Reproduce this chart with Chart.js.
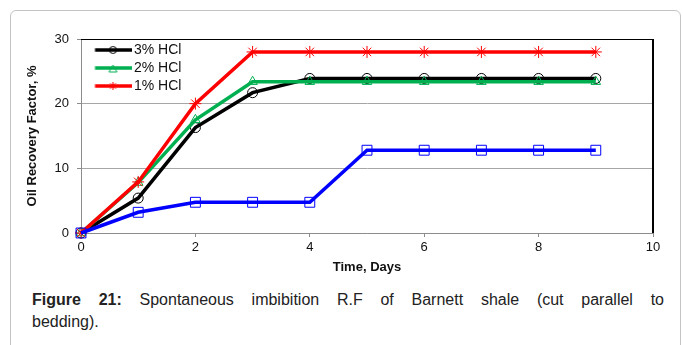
<!DOCTYPE html>
<html>
<head>
  <title>Figure 21</title>
  <script src="https://cdn.jsdelivr.net/npm/chart.js"></script>
  <style>
    body { margin: 0; background: #fff; font-family: "Liberation Sans", Arial, sans-serif; }
    #card { position: absolute; left: 10px; top: 10px; width: 671px; height: 345px;
            border: 1px solid #c4c4c4; border-radius: 6px; box-sizing: border-box; }
    #wrap { position: absolute; left: 0; top: 0; width: 683px; height: 285px; }
    .cap { position: absolute; left: 32px; width: 632px; font-size: 16px; color: #222; line-height: 22px; }
    #cap1 { top: 289px; text-align: justify; text-align-last: justify; }
    #cap2 { top: 311px; }
  </style>
</head>
<body>
  <div id="card"></div>
  <div id="wrap"><canvas id="chart" width="683" height="285"></canvas></div>
  <div class="cap" id="cap1"><b>Figure 21:</b> Spontaneous imbibition R.F of Barnett shale (cut parallel to</div>
  <div class="cap" id="cap2">bedding).</div>

  <script>
    const days = [0, 1, 2, 3, 4, 5, 6, 7, 8, 9];
    const hcl3 = [0, 5.4, 16.3, 21.7, 23.9, 23.9, 23.9, 23.9, 23.9, 23.9];
    const hcl2 = [0, 7.8, 17.5, 23.4, 23.4, 23.4, 23.4, 23.4, 23.4, 23.4];
    const hcl1 = [0, 7.9, 20, 28, 28, 28, 28, 28, 28, 28];
    const blank = [0, 3.2, 4.75, 4.75, 4.75, 12.8, 12.8, 12.8, 12.8, 12.8];
    const xTicks = [0, 2, 4, 6, 8, 10];
    const yTicks = [0, 10, 20, 30];

    const pts = (ys) => days.map((d, i) => ({ x: d, y: ys[i] }));

    // line + marker sample for the legend
    function legendImage(color, marker) {
      const c = document.createElement('canvas');
      c.width = 51; c.height = 12;
      const g = c.getContext('2d');
      g.strokeStyle = color;
      g.lineWidth = 3.5;
      g.beginPath(); g.moveTo(14.5, 6); g.lineTo(51, 6); g.stroke();
      g.lineWidth = 1;
      g.beginPath();
      const cx = 32.5, cy = 6;
      if (marker === 'circle') {
        g.arc(cx, cy, 3.5, 0, Math.PI * 2);
      } else if (marker === 'triangle') {
        g.moveTo(cx, cy - 3); g.lineTo(cx + 4, cy + 4); g.lineTo(cx - 4, cy + 4); g.closePath();
      } else {
        for (let a = 0; a < 4; a++) {
          const r = a * Math.PI / 4;
          g.moveTo(cx - 4 * Math.cos(r), cy - 4 * Math.sin(r));
          g.lineTo(cx + 4 * Math.cos(r), cy + 4 * Math.sin(r));
        }
      }
      g.stroke();
      return c;
    }

    const legendImgs = [
      legendImage('#000000', 'circle'),
      legendImage('#00b050', 'triangle'),
      legendImage('#ff0000', 'star')
    ];

    function series(label, data, color, style, radius, order) {
      return {
        label,
        data: pts(data),
        borderColor: color,
        backgroundColor: 'rgba(0,0,0,0)',
        borderWidth: 3.5,
        pointStyle: style,
        pointRadius: radius,
        pointBorderColor: color,
        pointBackgroundColor: 'rgba(255,255,255,0)',
        pointBorderWidth: 1,
        tension: 0,
        clip: false,
        order
      };
    }

    const frame = {
      id: 'frame',
      afterLayout(chart) {
        // legend in the chart area comes back with top = 0, move it into the plot
        const l = chart.legend;
        const dy = chart.chartArea.top - l.top;
        l.top += dy;
        l.bottom += dy;
      },
      afterDraw(chart) {
        const { ctx, chartArea: a } = chart;
        ctx.save();
        ctx.strokeStyle = '#000';
        ctx.lineWidth = 1;
        ctx.beginPath();
        ctx.moveTo(a.left, a.top + 0.5);
        ctx.lineTo(a.right - 0.5, a.top + 0.5);
        ctx.lineTo(a.right - 0.5, a.bottom);
        ctx.stroke();
        ctx.restore();
      }
    };

    new Chart(document.getElementById('chart'), {
      type: 'line',
      data: {
        datasets: [
          series('3% HCl', hcl3, '#000000', 'circle', 5, 3),
          series('2% HCl', hcl2, '#00b050', 'triangle', 5.5, 2),
          series('1% HCl', hcl1, '#ff0000', 'star', 6, 1),
          series('', blank, '#0000ff', 'rect', 7, 0)
        ]
      },
      options: {
        responsive: false,
        animation: false,
        layout: { padding: { left: 21, right: 30, top: 39, bottom: 6 } },
        plugins: {
          tooltip: { enabled: false },
          legend: {
            position: 'chartArea',
            align: 'start',
            labels: {
              usePointStyle: true,
              pointStyleWidth: 42,
              padding: 4,
              color: '#111',
              font: { family: 'Liberation Sans, Arial', size: 14 },
              generateLabels(chart) {
                return Chart.defaults.plugins.legend.labels.generateLabels(chart)
                  .filter(l => l.text)
                  .sort((a, b) => a.datasetIndex - b.datasetIndex)
                  .map(l => Object.assign(l, { pointStyle: legendImgs[l.datasetIndex] }));
              }
            }
          }
        },
        scales: {
          x: {
            type: 'linear',
            min: 0, max: 10,
            afterFit(s) { s.height = 46; },
            afterBuildTicks(s) { s.ticks = xTicks.map(v => ({ value: v })); },
            ticks: { color: '#111', padding: 3, font: { family: 'Liberation Sans, Arial', size: 13 } },
            grid: {
              color: c => c.tick && c.tick.value === 10 ? '#000' : 'rgba(0,0,0,0)',
              tickColor: '#8c8c8c',
              tickLength: 4
            },
            border: { color: '#8c8c8c', width: 1 },
            title: {
              display: true, text: 'Time, Days', color: '#111',
              font: { family: 'Liberation Sans, Arial', size: 13, weight: 'bold' }
            }
          },
          y: {
            min: 0, max: 30,
            afterFit(s) { s.width = 60; },
            afterBuildTicks(s) { s.ticks = yTicks.map(v => ({ value: v })); },
            ticks: { color: '#111', padding: 8, font: { family: 'Liberation Sans, Arial', size: 13 } },
            grid: {
              color: c => c.tick && c.tick.value === 30 ? '#000' : '#a6a6a6',
              tickColor: '#8c8c8c',
              tickLength: 4
            },
            border: { color: '#8c8c8c', width: 1 },
            title: {
              display: true, text: 'Oil Recovery Factor, %', color: '#111',
              font: { family: 'Liberation Sans, Arial', size: 13, weight: 'bold' }
            }
          }
        }
      },
      plugins: [frame]
    });
  </script>
</body>
</html>
